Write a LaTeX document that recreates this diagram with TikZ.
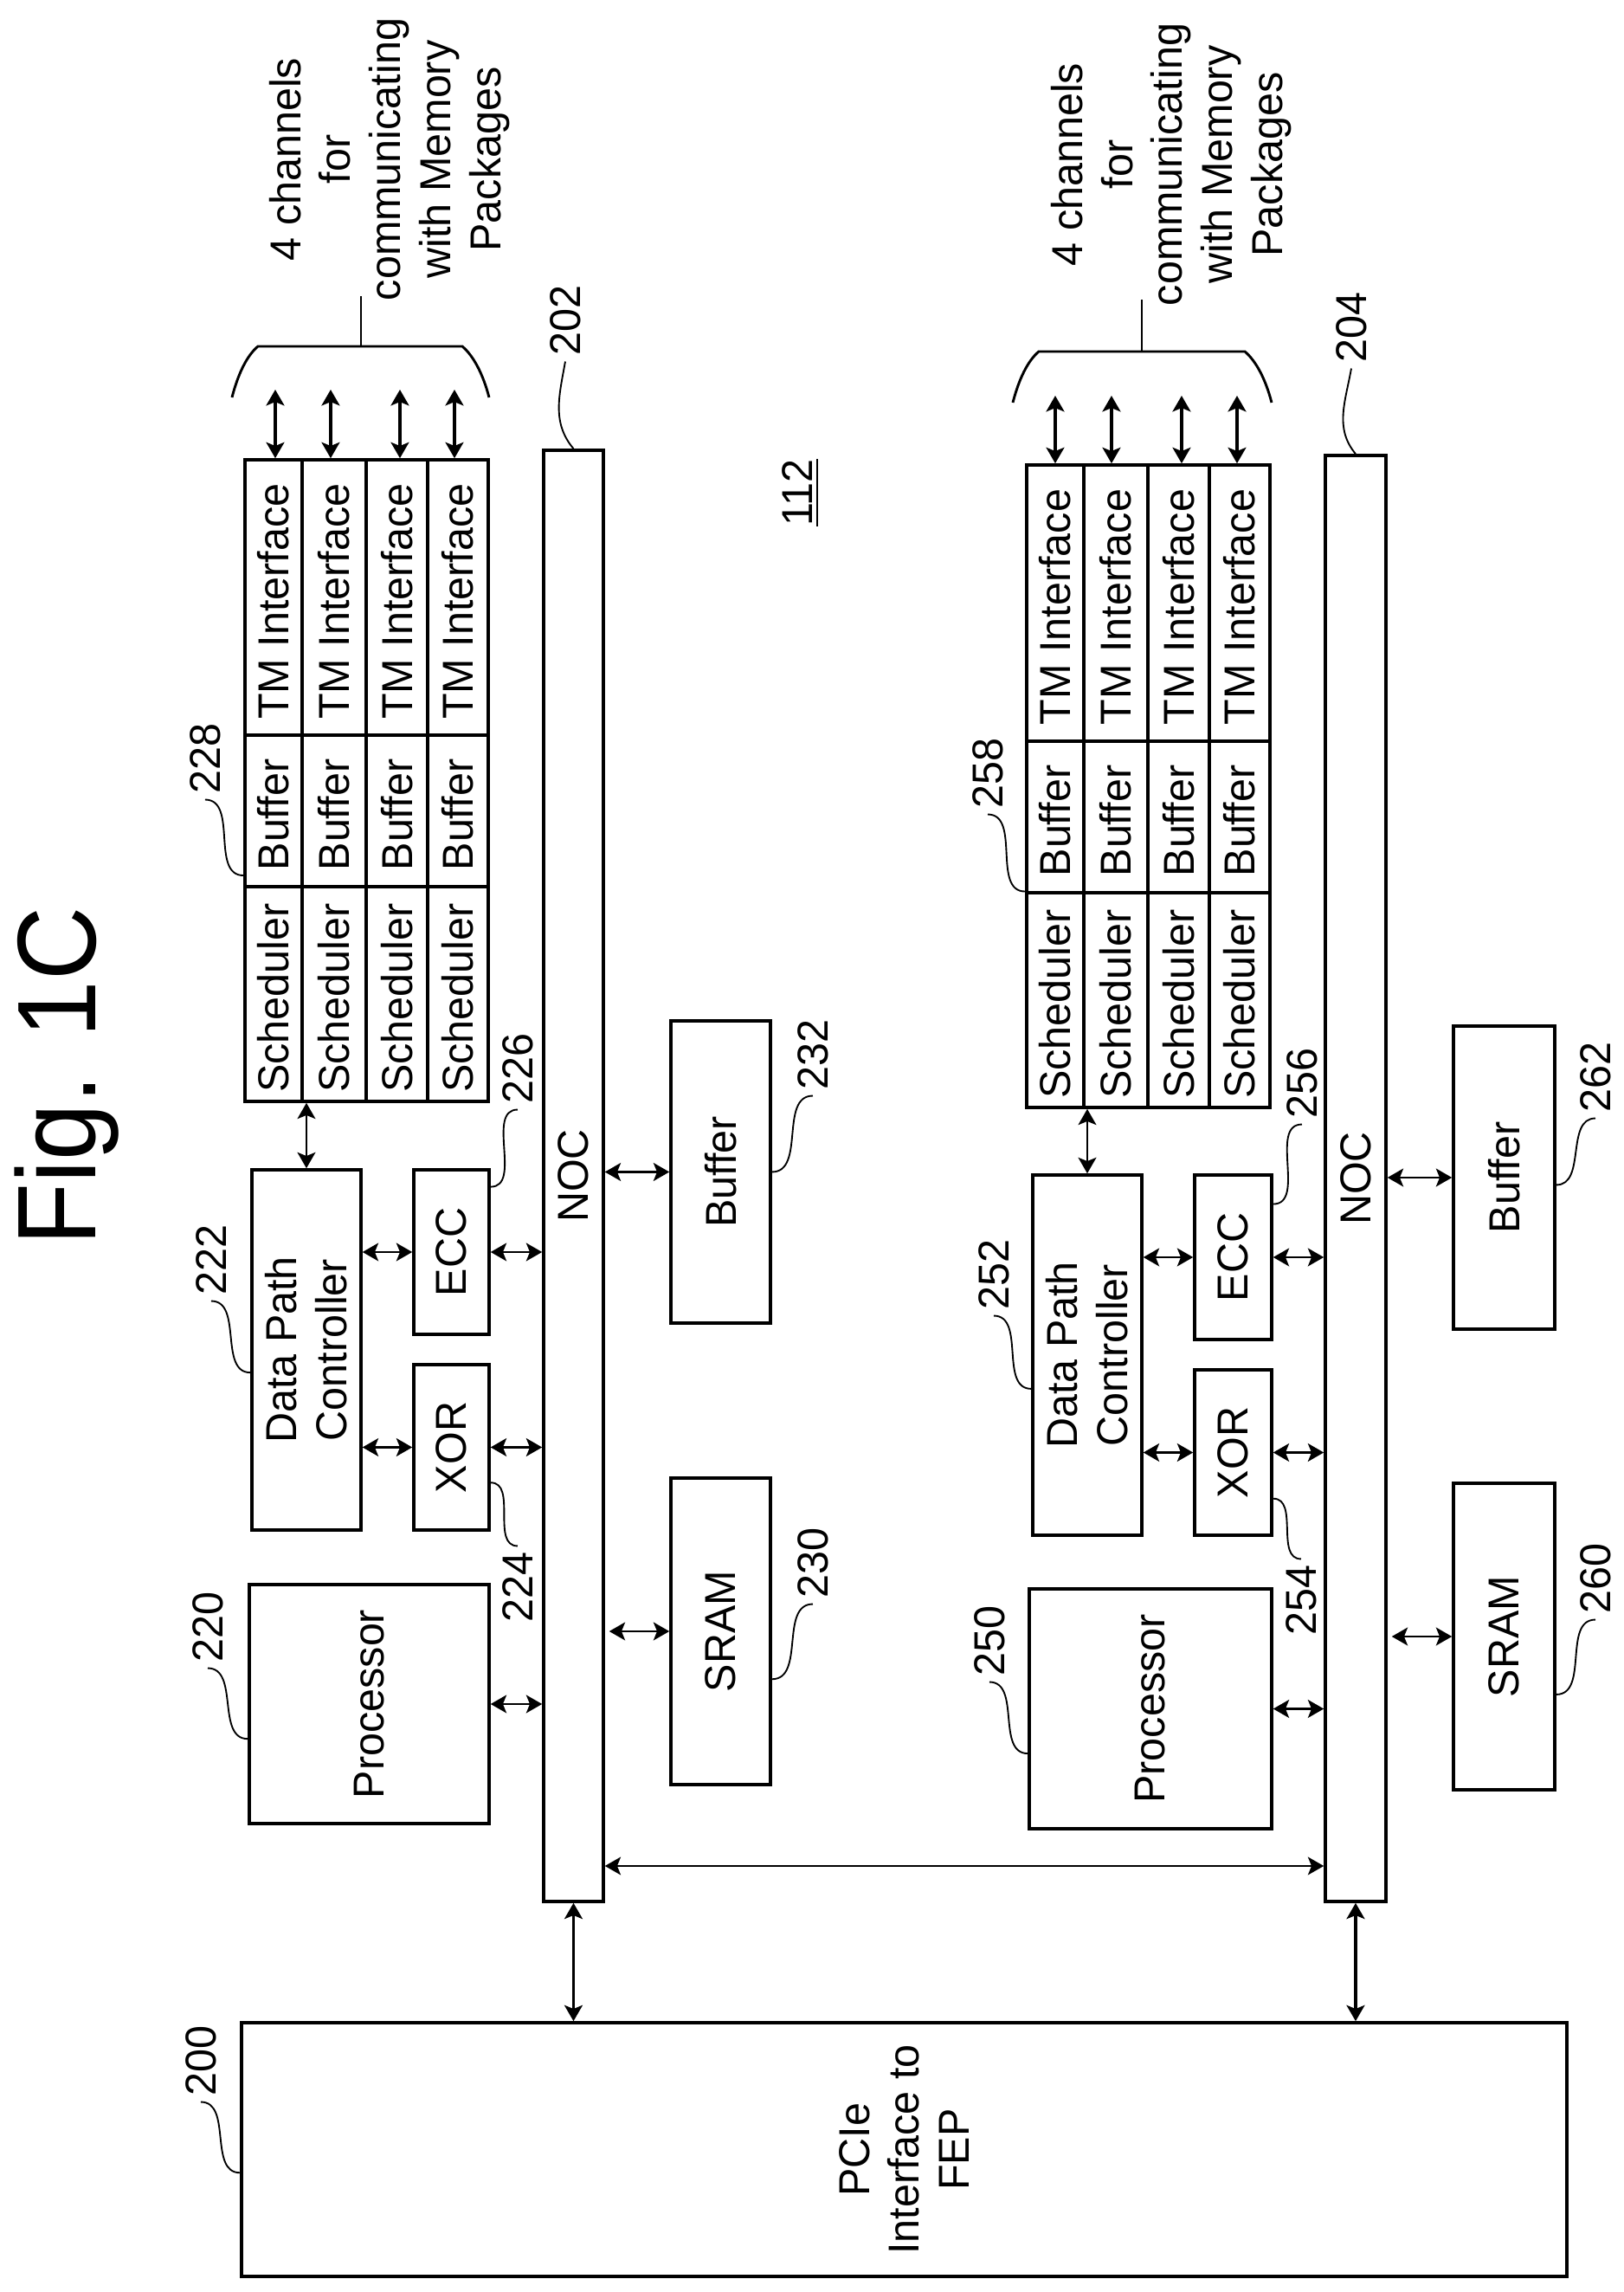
\documentclass[tikz,border=0pt]{standalone}
\usepackage{fontspec}
\setmainfont[FakeStretch=0.97]{Liberation Sans}
\usetikzlibrary{arrows.meta}
\begin{document}
\begin{tikzpicture}
[x=0.24pt,y=0.24pt,rotate=90,transform shape,
>={Stealth[length=4.4pt,width=5pt,inset=1pt]},
font=\fontsize{12pt}{13.9pt}\selectfont,
bl/.style 2 args={draw,line width=0.85pt,inner sep=0pt,align=center,minimum width=#1*0.24pt,minimum height=#2*0.24pt},
ce/.style 2 args={draw,line width=0.85pt,inner sep=0pt,minimum width=#1*0.24pt,minimum height=#2*0.24pt,execute at end node={\hspace*{2.2pt}}},
da/.style={<->,line width=0.65pt},
dt/.style={<->,line width=0.85pt},
db/.style={<->,line width=0.5pt},
le/.style={line width=0.45pt},
nm/.style={inner sep=1.5pt},
br/.style={line width=0.7pt}]
\useasboundingbox (0,0) rectangle (2647,1875);

\node [anchor=base,xscale=0.94,font=\fontsize{31pt}{36pt}\selectfont] at (1404,1764) (fig) {Fig. 1C};
\node [bl={293}{1531}] at (164.5,830.5) (pcie) {PCIe\\Interface to\\FEP};

\node [bl={1676}{69}] at (1289,1212.5) (nocA) {NOC};
\node [bl={276}{277}] at (679,1448.5) (prA) {Processor};
\node [bl={416}{126}] at (1088,1521) (dpcA) {Data Path\\Controller};
\node [bl={191}{87}] at (975.5,1353.5) (xorA) {XOR};
\node [bl={190}{87}] at (1201,1353.5) (eccA) {ECC};
\node [bl={354}{115}] at (763,1042.5) (srA) {SRAM};
\node [bl={349}{115}] at (1293.5,1042.5) (bufA) {Buffer};

\node [ce={248}{66}] at (1499,1559) (scA1) {Scheduler};
\node [ce={248}{74}] at (1499,1489) (scA2) {Scheduler};
\node [ce={248}{71}] at (1499,1416.5) (scA3) {Scheduler};
\node [ce={248}{70}] at (1499,1346) (scA4) {Scheduler};
\node [ce={175}{66}] at (1710.5,1559) (bfA1) {Buffer};
\node [ce={175}{74}] at (1710.5,1489) (bfA2) {Buffer};
\node [ce={175}{71}] at (1710.5,1416.5) (bfA3) {Buffer};
\node [ce={175}{70}] at (1710.5,1346) (bfA4) {Buffer};
\node [ce={318}{66}] at (1957,1559) (tmA1) {TM Interface};
\node [ce={318}{74}] at (1957,1489) (tmA2) {TM Interface};
\node [ce={318}{71}] at (1957,1416.5) (tmA3) {TM Interface};
\node [ce={318}{70}] at (1957,1346) (tmA4) {TM Interface};

\node [bl={1670}{70}] at (1286,309) (nocB) {NOC};
\node [bl={277}{280}] at (673.5,546) (prB) {Processor};
\node [bl={416}{126}] at (1082,619) (dpcB) {Data Path\\Controller};
\node [bl={191}{89}] at (969.5,450.5) (xorB) {XOR};
\node [bl={190}{89}] at (1195,450.5) (eccB) {ECC};
\node [bl={354}{117}] at (757,137.5) (srB) {SRAM};
\node [bl={350}{117}] at (1287,137.5) (bufB) {Buffer};

\node [ce={248}{66}] at (1492,656) (scB1) {Scheduler};
\node [ce={248}{74}] at (1492,586) (scB2) {Scheduler};
\node [ce={248}{71}] at (1492,513.5) (scB3) {Scheduler};
\node [ce={248}{70}] at (1492,443) (scB4) {Scheduler};
\node [ce={175}{66}] at (1703.5,656) (bfB1) {Buffer};
\node [ce={175}{74}] at (1703.5,586) (bfB2) {Buffer};
\node [ce={175}{71}] at (1703.5,513.5) (bfB3) {Buffer};
\node [ce={175}{70}] at (1703.5,443) (bfB4) {Buffer};
\node [ce={319}{66}] at (1950.5,656) (tmB1) {TM Interface};
\node [ce={319}{74}] at (1950.5,586) (tmB2) {TM Interface};
\node [ce={319}{71}] at (1950.5,513.5) (tmB3) {TM Interface};
\node [ce={319}{70}] at (1950.5,443) (tmB4) {TM Interface};

\node [align=center] at (2463,1425) (chA) {4 channels\\for\\communicating\\with Memory\\Packages};
\node [align=center] at (2457,522) (chB) {4 channels\\for\\communicating\\with Memory\\Packages};
\node [nm] at (2078,950) (lb112) {\underline{112}};

\node [nm] at (2277,1222) (n202) {202};
\node [nm] at (1771,1638) (n228) {228};
\node [nm] at (1413,1277) (n226) {226};
\node [nm] at (1192,1631) (n222) {222};
\node [nm] at (814,1277) (n224) {224};
\node [nm] at (768,1635) (n220) {220};
\node [nm] at (267,1643) (n200) {200};
\node [nm] at (1429,936) (n232) {232};
\node [nm] at (842,936) (n230) {230};
\node [nm] at (2269,314) (n204) {204};
\node [nm] at (1754,734) (n258) {258};
\node [nm] at (1396,371) (n256) {256};
\node [nm] at (1175,727) (n252) {252};
\node [nm] at (799,372) (n254) {254};
\node [nm] at (752,732) (n250) {250};
\node [nm] at (1403,32) (n262) {262};
\node [nm] at (824,32) (n260) {260};

\coordinate (c1) at (2197,1557);
\coordinate (c2) at (2197,1493);
\coordinate (c3) at (2197,1413);
\coordinate (c4) at (2197,1350);
\coordinate (c5) at (2190,656);
\coordinate (c6) at (2190,591);
\coordinate (c7) at (2190,510);
\coordinate (c8) at (2190,446);
\coordinate (stA) at (2247,1458);
\coordinate (stB) at (2241,556);
\coordinate (tpA) at (2305,1458);
\coordinate (tpB) at (2301,556);
\coordinate (bus) at (492,800);

\draw [dt] (c1) -- (tmA1.east |- c1);
\draw [dt] (c2) -- (tmA2.east |- c2);
\draw [dt] (c3) -- (tmA3.east |- c3);
\draw [dt] (c4) -- (tmA4.east |- c4);
\draw [dt] (c5) -- (tmB1.east |- c5);
\draw [dt] (c6) -- (tmB2.east |- c6);
\draw [dt] (c7) -- (tmB3.east |- c7);
\draw [dt] (c8) -- (tmB4.east |- c8);

\draw [br] (2188,1607) .. controls (2215,1600) and (2236,1590) .. (2247,1577) -- (2247,1341) .. controls (2236,1328) and (2215,1317) .. (2188,1310);
\draw [br] (2182,705) .. controls (2209,698) and (2230,688) .. (2241,675) -- (2241,437) .. controls (2230,424) and (2209,413) .. (2182,406);
\draw [br] (stA) -- (tpA);
\draw [br] (stB) -- (tpB);

\draw [da] (dpcA.east) -- (dpcA.east -| scA2.west);
\draw [da] (eccA.north) -- (eccA.north |- dpcA.south);
\draw [da] (xorA.north) -- (xorA.north |- dpcA.south);
\draw [da] (eccA.south) -- (eccA.south |- nocA.north);
\draw [da] (xorA.south) -- (xorA.south |- nocA.north);
\draw [da] (prA.south) -- (prA.south |- nocA.north);
\draw [da] (bufA.north) -- (bufA.north |- nocA.south);
\draw [da,shorten >=1.2pt] (srA.north) -- (srA.north |- nocA.south);
\draw [dt] (nocA.west) -- (nocA.west -| pcie.east);

\draw [da] (dpcB.east) -- (dpcB.east -| scB2.west);
\draw [da] (eccB.north) -- (eccB.north |- dpcB.south);
\draw [da] (xorB.north) -- (xorB.north |- dpcB.south);
\draw [da] (eccB.south) -- (eccB.south |- nocB.north);
\draw [da] (xorB.south) -- (xorB.south |- nocB.north);
\draw [da] (prB.south) -- (prB.south |- nocB.north);
\draw [da] (bufB.north) -- (bufB.north |- nocB.south);
\draw [da,shorten >=1.2pt] (srB.north) -- (srB.north |- nocB.south);
\draw [dt] (nocB.west) -- (nocB.west -| pcie.east);

\draw [db] (bus |- nocA.south) -- (bus |- nocB.north);

\draw [le] (nocA.east) to [out=40,in=170] (n202.west);
\draw [le] (bfA1.155) to [out=90,in=-90] (n228.west);
\draw [le] (eccA.-31.5) to [out=-90,in=90] (n226.west);
\draw [le] (dpcA.112.4) to [out=90,in=-90] (n222.west);
\draw [le] (xorA.-132) to [out=-90,in=90] (n224.east);
\draw [le] (prA.106.9) to [out=90,in=-90] (n220.west);
\draw [le] (pcie.92.1) to [out=90,in=-90] (n200.west);
\draw [le] (bufA.south) to [out=-90,in=90] (n232.west);
\draw [le] (srA.-133.2) to [out=-90,in=90] (n230.west);
\draw [le] (nocB.east) to [out=40,in=170] (n204.west);
\draw [le] (bfB1.158) to [out=90,in=-90] (n258.west);
\draw [le] (eccB.-37.5) to [out=-90,in=90] (n256.west);
\draw [le] (dpcB.121) to [out=90,in=-90] (n252.west);
\draw [le] (xorB.-139.2) to [out=-90,in=90] (n254.east);
\draw [le] (prB.110.9) to [out=90,in=-90] (n250.west);
\draw [le] (bufB.-98.7) to [out=-90,in=90] (n262.west);
\draw [le] (srB.-138) to [out=-90,in=90] (n260.west);
\end{tikzpicture}
\end{document}
